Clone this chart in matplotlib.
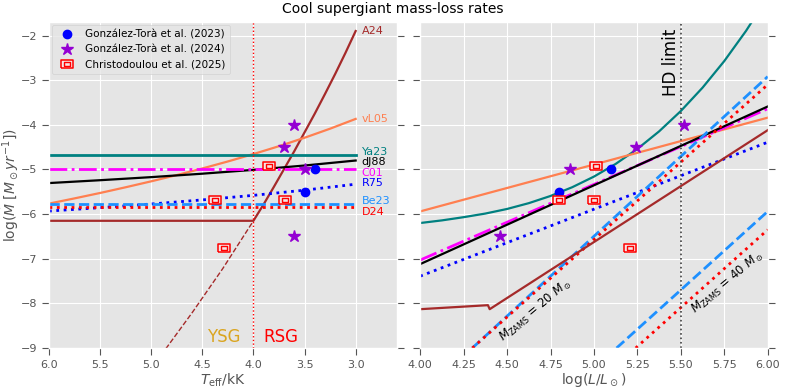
import matplotlib.pyplot as plt
from matplotlib.legend_handler import HandlerTuple

plt.style.use("ggplot")

# ---- left panel: log Mdot vs Teff (kK) ----
teff_a24_dash = [4.9, 4.6, 4.3, 4.0]
a24_dash = [-9.15, -8.21, -7.22, -6.15]
teff_a24 = [6.0, 4.0, 3.9, 3.8, 3.7, 3.6, 3.5, 3.4, 3.3, 3.2, 3.1, 3.0]
a24_t = [-6.15, -6.15, -5.78, -5.39, -4.99, -4.59, -4.17, -3.75, -3.31,
         -2.86, -2.39, -1.90]

teff_curve = [6.0, 5.75, 5.5, 5.25, 5.0, 4.75, 4.5, 4.25, 4.0, 3.75, 3.5, 3.25, 3.0]
vl05_t = [-5.765, -5.648, -5.527, -5.399, -5.266, -5.126, -4.978, -4.821,
          -4.655, -4.479, -4.29, -4.087, -3.868]

teff_half = [6.0, 5.5, 5.0, 4.5, 4.0, 3.5, 3.0]
dj88_t = [-5.305, -5.241, -5.172, -5.095, -5.009, -4.912, -4.80]
r75_t = [-5.932, -5.856, -5.774, -5.682, -5.580, -5.464, -5.33]

teff_ends = [6.0, 3.0]
ya23_t = [-4.67, -4.67]
c01_t = [-5.0, -5.0]
be23_t = [-5.78, -5.78]
d24_t = [-5.85, -5.85]

# observations (left)
gt23_teff = [3.4, 3.5]
gt23_mdot = [-5.0, -5.5]
gt24_teff = [3.6, 3.7, 3.5, 3.6]
gt24_mdot = [-4.0, -4.5, -5.0, -6.5]
ch25_teff = [3.85, 4.38, 3.69, 4.29]
ch25_mdot = [-4.92, -5.69, -5.69, -6.75]

# ---- right panel: log Mdot vs log L ----
logl_ends = [4.0, 6.0]
vl05_l = [-5.94, -3.84]
dj88_l = [-7.12, -3.59]
c01_l = [-7.03, -3.64]
r75_l = [-7.39, -4.39]

logl_ya = [4.0, 4.125, 4.25, 4.375, 4.5, 4.625, 4.75, 4.875, 5.0, 5.125,
           5.25, 5.375, 5.5, 5.625, 5.75, 5.875, 6.0]
ya23_l = [-6.20, -6.141, -6.069, -5.988, -5.885, -5.755, -5.594, -5.398,
          -5.16, -4.876, -4.54, -4.147, -3.691, -3.168, -2.572, -1.897, -1.14]

be23_20_l = [4.3, 6.0]
be23_20 = [-9.0, -2.92]
be23_40_l = [5.13, 6.0]
be23_40 = [-9.0, -5.94]
d24_20_l = [4.3, 6.0]
d24_20 = [-9.0, -3.10]
d24_40_l = [5.24, 6.0]
d24_40 = [-9.0, -6.35]
a24_l_x = [4.0, 4.39, 4.40, 6.0]
a24_l = [-8.13, -8.04, -8.13, -4.12]

gt23_logl = [5.1, 4.8]
gt24_logl = [5.52, 5.24, 4.86, 4.46]
gt24_mdot_r = [-4.0, -4.5, -5.0, -6.5]
ch25_logl = [5.01, 4.8, 5.0, 5.21]
ch25_mdot_r = [-4.92, -5.69, -5.69, -6.75]

rect = [(-1, -0.8), (1, -0.8), (1, 0.8), (-1, 0.8), (-1, -0.8)]

fig, (ax1, ax2) = plt.subplots(1, 2, sharey=True, figsize=(7.85, 3.88), dpi=100)
fig.subplots_adjust(left=0.0624, right=0.978, bottom=0.103, top=0.943, wspace=0.068)

lw = 1.6
ax1.plot(teff_a24_dash, a24_dash, color="brown", ls="--", lw=1)
ax1.plot(teff_a24, a24_t, color="brown", lw=lw)
ax1.plot(teff_curve, vl05_t, color="coral", lw=lw)
ax1.plot(teff_ends, ya23_t, color="teal", lw=2)
ax1.plot(teff_half, dj88_t, color="k", lw=lw)
ax1.plot(teff_ends, c01_t, color="magenta", ls="-.", lw=2)
ax1.plot(teff_half, r75_t, color="blue", ls=":", lw=2)
ax1.plot(teff_ends, be23_t, color="dodgerblue", ls="--", lw=2)
ax1.plot(teff_ends, d24_t, color="red", ls=":", lw=2)
ax1.axvline(4.0, color="red", ls=":", lw=1)

labels = [("A24", -1.89, "brown"), ("vL05", -3.86, "coral"), ("Ya23", -4.6, "teal"),
          ("dJ88", -4.84, "k"), ("C01", -5.07, "magenta"), ("R75", -5.31, "blue"),
          ("Be23", -5.71, "dodgerblue"), ("D24", -5.96, "red")]
for name, yv, col in labels:
    ax1.text(2.94, yv, name, color=col, fontsize=8, va="center", ha="left")

ax1.text(4.29, -8.75, "YSG", color="goldenrod", fontsize=12, ha="center", va="center")
ax1.text(3.73, -8.75, "RSG", color="red", fontsize=12, ha="center", va="center")

h1, = ax1.plot(gt23_teff, gt23_mdot, "o", color="blue", ms=6, ls="none")
h2, = ax1.plot(gt24_teff, gt24_mdot, "*", color="darkviolet", ms=9, ls="none")
h3a, = ax1.plot(ch25_teff, ch25_mdot, marker=rect, ls="none", ms=8, mfc="#f6e6e6",
                mec="red", mew=1.1)
h3b, = ax1.plot(ch25_teff, ch25_mdot, marker=rect, ls="none", ms=4, mfc="none",
                mec="red", mew=1.0)

ax1.legend([h1, h2, (h3a, h3b)],
           ["González-Torà et al. (2023)", "González-Torà et al. (2024)",
            "Christodoulou et al. (2025)"],
           handler_map={tuple: HandlerTuple(ndivide=1, pad=0)},
           loc="upper left", fontsize=7.5, borderaxespad=0.3)

ax1.set_xlim(6.0, 2.6)
ax1.set_xticks([6.0, 5.5, 5.0, 4.5, 4.0, 3.5, 3.0])
ax1.set_ylim(-9, -1.7)
ax1.set_yticks([-9, -8, -7, -6, -5, -4, -3, -2])
ax1.set_xlabel(r"$T_{\rm eff}$/kK", fontsize=10, labelpad=1)
ax1.set_ylabel(r"log($\dot{M}$ [$M_\odot yr^{-1}$])", fontsize=10)
ax1.yaxis.set_label_coords(-0.08, 0.5)

# right panel
ax2.plot(logl_ya, ya23_l, color="teal", lw=lw)
ax2.plot(logl_ends, vl05_l, color="coral", lw=lw)
ax2.plot(logl_ends, c01_l, color="magenta", ls="-.", lw=2)
ax2.plot(logl_ends, dj88_l, color="k", lw=lw)
ax2.plot(logl_ends, r75_l, color="blue", ls=":", lw=2)
ax2.plot(be23_20_l, be23_20, color="dodgerblue", ls="--", lw=2)
ax2.plot(be23_40_l, be23_40, color="dodgerblue", ls="--", lw=2)
ax2.plot(d24_20_l, d24_20, color="red", ls=":", lw=2)
ax2.plot(d24_40_l, d24_40, color="red", ls=":", lw=2)
ax2.plot(a24_l_x, a24_l, color="brown", lw=lw)
ax2.axvline(5.5, color="0.25", ls=":", lw=1.2)
ax2.text(5.445, -2.6, "HD limit", rotation=90, fontsize=12, ha="center", va="center")
ax2.text(4.665, -8.15, r"$M_{\rm ZAMS}$ = 20 $M_\odot$", rotation=40, fontsize=8.5,
         ha="center", va="center")
ax2.text(5.77, -7.53, r"$M_{\rm ZAMS}$ = 40 $M_\odot$", rotation=40, fontsize=8.5,
         ha="center", va="center")

ax2.plot(gt23_logl, gt23_mdot, "o", color="blue", ms=6, ls="none")
ax2.plot(gt24_logl, gt24_mdot_r, "*", color="darkviolet", ms=9, ls="none")
ax2.plot(ch25_logl, ch25_mdot_r, marker=rect, ls="none", ms=8, mfc="#f6e6e6",
         mec="red", mew=1.1)
ax2.plot(ch25_logl, ch25_mdot_r, marker=rect, ls="none", ms=4, mfc="none",
         mec="red", mew=1.0)

ax2.set_xlim(4.0, 6.0)
ax2.set_xticks([4.0, 4.25, 4.5, 4.75, 5.0, 5.25, 5.5, 5.75, 6.0])
ax2.set_xlabel(r"log($L/L_\odot$)", fontsize=10, labelpad=1)

for ax in (ax1, ax2):
    ax.tick_params(axis="both", labelsize=8, length=5)
    ax.tick_params(axis="y", right=True)

fig.suptitle("Cool supergiant mass-loss rates", fontsize=10, y=0.995)
fig.savefig("out.png", dpi=100)
